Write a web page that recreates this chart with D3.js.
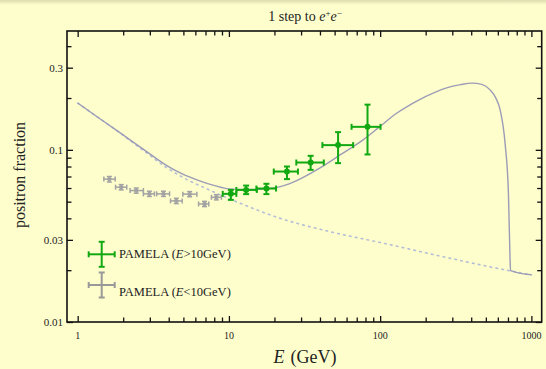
<!DOCTYPE html>
<html>
<head>
<meta charset="utf-8">
<script src="https://cdn.jsdelivr.net/npm/d3@7"></script>
<style>
  body { margin: 0; background: #fefecd; }
  svg { display: block; font-family: "Liberation Serif", "DejaVu Serif", serif; }
</style>
</head>
<body>
<div id="chart"></div>
<script>
// model curve, total positron fraction (solid)
const totalE = [1, 1.38, 1.78, 2.29, 2.95, 3.81, 4.91, 6.33, 8.17, 10, 13, 17.7, 19.5, 25, 39.8, 55, 77.1, 99, 128.4, 165, 236, 275, 340, 403, 470, 533, 580, 621, 670, 705, 723, 728, 1000];
const totalF = [0.187, 0.153, 0.131, 0.112, 0.0957, 0.0818, 0.0725, 0.0663, 0.0617, 0.0593, 0.0588, 0.0594, 0.0599, 0.0635, 0.0783, 0.094, 0.1143, 0.136, 0.163, 0.187, 0.218, 0.229, 0.239, 0.244, 0.240, 0.223, 0.201, 0.171, 0.109, 0.056, 0.0229, 0.0199, 0.0188];

// secondary background (dotted)
const bgE = [1, 1.38, 1.78, 2.29, 2.95, 3.81, 4.91, 7.4, 11.2, 21.7, 46.4, 104.8, 275, 705, 1000];
const bgF = [0.187, 0.153, 0.131, 0.111, 0.094, 0.0795, 0.0695, 0.0585, 0.050, 0.0401, 0.0335, 0.0287, 0.0237, 0.0199, 0.0188];

// PAMELA E > 10 GeV
const hiE = [10.3, 13.0, 17.7, 24.2, 34.7, 52.7, 82.5];
const hiF = [0.0555, 0.0585, 0.0596, 0.0748, 0.0844, 0.1065, 0.136];
const hiElo = [9.1, 11.2, 15.2, 19.8, 27.9, 41.5, 64.7];
const hiEhi = [11.2, 15.3, 20.5, 28.6, 42.4, 66.3, 100.6];
const hiFlo = [0.0512, 0.0553, 0.0553, 0.0676, 0.0765, 0.0837, 0.094];
const hiFhi = [0.0585, 0.0620, 0.0635, 0.080, 0.0923, 0.1267, 0.183];

// PAMELA E < 10 GeV
const loE = [1.62, 1.94, 2.44, 2.98, 3.69, 4.49, 5.5, 6.9, 8.26];
const loF = [0.0676, 0.0607, 0.058, 0.0555, 0.0555, 0.0505, 0.0553, 0.0485, 0.053];
const loElo = [1.49, 1.78, 2.22, 2.72, 3.33, 4.11, 4.96, 6.3, 7.66];
const loEhi = [1.77, 2.11, 2.72, 3.22, 4.05, 4.91, 6.14, 7.36, 8.92];
const loFlo = [0.065, 0.0585, 0.056, 0.0536, 0.0536, 0.0487, 0.0534, 0.0468, 0.0512];
const loFhi = [0.070, 0.0628, 0.060, 0.0575, 0.0575, 0.0523, 0.0572, 0.0502, 0.0549];

const xTickLabels = [1, 10, 100, 1000];
const yTickLabels = [0.01, 0.03, 0.1, 0.3];
const yTickText = ["0.01", "0.03", "0.1", "0.3"];

const width = 546, height = 369;
const mLeft = 67, mRight = 541.7, mTop = 31, mBottom = 322;

const svg = d3.select("#chart").append("svg")
  .attr("width", width)
  .attr("height", height);

// faint shadow band along the top edge
const grad = svg.append("defs").append("linearGradient")
  .attr("id", "topshade").attr("x1", 0).attr("y1", 0).attr("x2", 0).attr("y2", 1);
grad.append("stop").attr("offset", 0).attr("stop-color", "#dcdcb0");
grad.append("stop").attr("offset", 1).attr("stop-color", "#fefecd");
svg.append("rect").attr("width", width).attr("height", 5).attr("fill", "url(#topshade)");

const x = d3.scaleLog().domain([0.85, 1170]).range([mLeft, mRight]);
const y = d3.scaleLog().domain([0.01, 0.49]).range([mBottom, mTop]);

// minor tick values: 2..9 times each decade
const xMinor = [], yMinor = [];
for (let d = 1; d <= 100; d *= 10)
  for (let k = 2; k <= 9; k++) xMinor.push(k * d);
for (let d = 0.01; d <= 0.1 + 1e-9; d *= 10)
  for (let k = 1; k <= 9; k++) {
    const v = +(k * d).toPrecision(3);
    if (v < 0.49 && !yTickLabels.includes(v)) yMinor.push(v);
  }

function ticks(axis, vals, size, tx, ty) {
  svg.append("g")
    .attr("transform", "translate(" + tx + "," + ty + ")")
    .call(axis.tickValues(vals).tickSize(size).tickSizeOuter(0).tickFormat(""))
    .call(g => g.select(".domain").remove())
    .call(g => g.selectAll("line").attr("stroke", "#111").attr("stroke-width", 1.3));
}

ticks(d3.axisBottom(x), xTickLabels, -6, 0, mBottom);
ticks(d3.axisBottom(x), xMinor, -4.5, 0, mBottom);
ticks(d3.axisTop(x), xTickLabels, -6, 0, mTop);
ticks(d3.axisTop(x), xMinor, -4.5, 0, mTop);
ticks(d3.axisLeft(y), yTickLabels, -6, mLeft, 0);
ticks(d3.axisLeft(y), yMinor, -4.5, mLeft, 0);
ticks(d3.axisRight(y), yTickLabels, -6, mRight, 0);
ticks(d3.axisRight(y), yMinor, -4.5, mRight, 0);

// frame
svg.append("rect")
  .attr("x", mLeft).attr("y", mTop)
  .attr("width", mRight - mLeft).attr("height", mBottom - mTop)
  .attr("fill", "none").attr("stroke", "#111").attr("stroke-width", 1.6);

// tick labels
svg.append("g").selectAll("text").data(xTickLabels).enter().append("text")
  .attr("x", d => x(d)).attr("y", 339)
  .attr("text-anchor", "middle").attr("font-size", 10).attr("fill", "#222")
  .text(d => d);

svg.append("g").selectAll("text").data(yTickLabels).enter().append("text")
  .attr("x", 63).attr("y", d => y(d)).attr("dy", "0.35em")
  .attr("text-anchor", "end").attr("font-size", 11).attr("fill", "#222")
  .text((d, i) => yTickText[i]);

// curves
const line = d3.line().x(d => x(d[0])).y(d => y(d[1])).curve(d3.curveMonotoneX);

svg.append("path")
  .datum(d3.zip(bgE, bgF))
  .attr("d", line)
  .attr("fill", "none").attr("stroke", "#b4bed6").attr("stroke-width", 1.6)
  .attr("stroke-dasharray", "1.6,4.4").attr("stroke-linecap", "round");

svg.append("path")
  .datum(d3.zip(totalE, totalF))
  .attr("d", line)
  .attr("fill", "none").attr("stroke", "#9c9cb6").attr("stroke-width", 1.4);

// error bars with caps
function errorBars(E, F, Elo, Ehi, Flo, Fhi, color, sw, cap, r) {
  const g = svg.append("g").attr("stroke", color).attr("stroke-width", sw).attr("fill", color);
  E.forEach((e, i) => {
    const cx = x(e), cy = y(F[i]);
    const x0 = x(Elo[i]), x1 = x(Ehi[i]), y0 = y(Flo[i]), y1 = y(Fhi[i]);
    g.append("line").attr("x1", x0).attr("x2", x1).attr("y1", cy).attr("y2", cy);
    g.append("line").attr("x1", cx).attr("x2", cx).attr("y1", y0).attr("y2", y1);
    g.append("line").attr("x1", x0).attr("x2", x0).attr("y1", cy - cap).attr("y2", cy + cap);
    g.append("line").attr("x1", x1).attr("x2", x1).attr("y1", cy - cap).attr("y2", cy + cap);
    g.append("line").attr("x1", cx - cap).attr("x2", cx + cap).attr("y1", y0).attr("y2", y0);
    g.append("line").attr("x1", cx - cap).attr("x2", cx + cap).attr("y1", y1).attr("y2", y1);
    g.append("circle").attr("cx", cx).attr("cy", cy).attr("r", r).attr("stroke", "none");
  });
}

errorBars(loE, loF, loElo, loEhi, loFlo, loFhi, "#a3a3a3", 1.5, 2.5, 2.2);
errorBars(hiE, hiF, hiElo, hiEhi, hiFlo, hiFhi, "#11a811", 2, 3, 3);

// legend
function legendCross(cx, cy, color) {
  const g = svg.append("g").attr("stroke", color).attr("stroke-width", 2);
  g.append("line").attr("x1", cx - 13).attr("x2", cx + 13).attr("y1", cy).attr("y2", cy);
  g.append("line").attr("x1", cx).attr("x2", cx).attr("y1", cy - 12.5).attr("y2", cy + 12.5);
  g.append("line").attr("x1", cx - 13).attr("x2", cx - 13).attr("y1", cy - 3).attr("y2", cy + 3);
  g.append("line").attr("x1", cx + 13).attr("x2", cx + 13).attr("y1", cy - 3).attr("y2", cy + 3);
  g.append("line").attr("x1", cx - 3).attr("x2", cx + 3).attr("y1", cy - 12.5).attr("y2", cy - 12.5);
  g.append("line").attr("x1", cx - 3).attr("x2", cx + 3).attr("y1", cy + 12.5).attr("y2", cy + 12.5);
}

function legendText(tx, ty, sign) {
  const t = svg.append("text").attr("x", tx).attr("y", ty)
    .attr("font-size", 12.5).attr("fill", "#222");
  t.append("tspan").text("PAMELA (");
  t.append("tspan").attr("font-style", "italic").text("E");
  t.append("tspan").text(sign + "10GeV)");
}

legendCross(101.7, 254.3, "#11a811");
legendText(119, 258, ">");
legendCross(101.7, 285, "#999");
legendText(119, 296, "<");

// title and axis labels
const title = svg.append("text")
  .attr("x", 305).attr("y", 21).attr("text-anchor", "middle")
  .attr("font-size", 14).attr("fill", "#222");
title.append("tspan").text("1 step to ");
title.append("tspan").attr("font-style", "italic").text("e");
title.append("tspan").attr("font-size", 9).attr("dy", -5).text("+");
title.append("tspan").attr("font-style", "italic").attr("dy", 5).text("e");
title.append("tspan").attr("font-size", 9).attr("dy", -5).text("\u2212");

const xl = svg.append("text")
  .attr("x", 305).attr("y", 363).attr("text-anchor", "middle")
  .attr("font-size", 18).attr("fill", "#222");
xl.append("tspan").attr("font-style", "italic").text("E");
xl.append("tspan").attr("dx", 6).text("(GeV)");

svg.append("text")
  .attr("transform", "translate(25,175) rotate(-90)")
  .attr("text-anchor", "middle").attr("font-size", 16).attr("fill", "#222")
  .text("positron fraction");
</script>
</body>
</html>
